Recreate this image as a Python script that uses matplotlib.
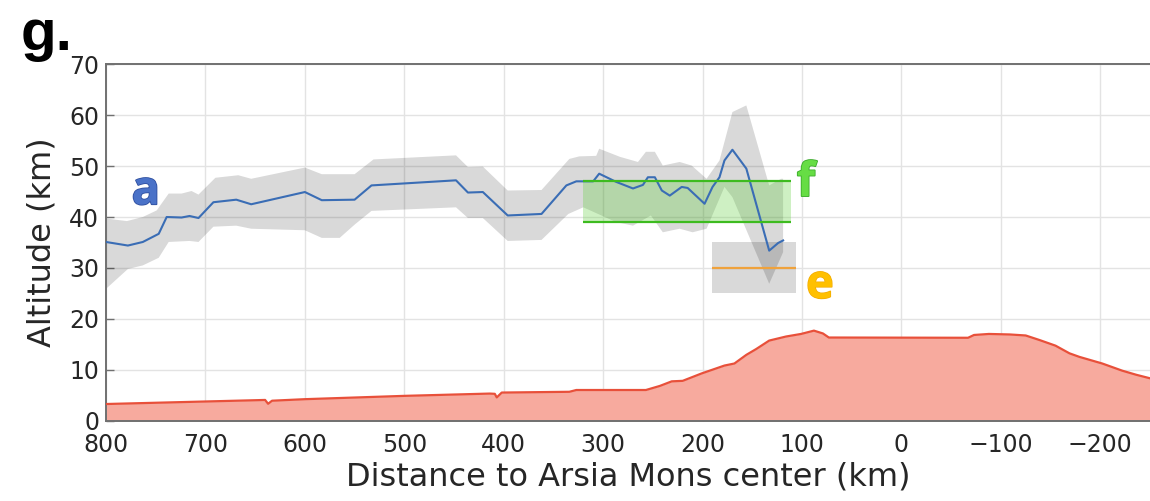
import numpy as np
import matplotlib
matplotlib.use("Agg")
import matplotlib.pyplot as plt
import matplotlib.patheffects as pe

# blue retrieval line (distance km, altitude km)
line_x = [800, 778, 763, 747, 739, 724, 716, 707, 692, 669, 654, 600, 583, 550, 533,
          448, 436, 421, 396, 362, 337, 327, 310, 304, 287, 270, 260, 255, 248, 241,
          233, 221, 215, 198, 190, 183, 178, 170, 156, 133, 124, 119]
line_y = [35.1, 34.4, 35.1, 36.7, 40.0, 39.9, 40.2, 39.8, 42.9, 43.4, 42.5, 44.9, 43.3, 43.4, 46.2,
          47.2, 44.8, 44.9, 40.3, 40.6, 46.2, 47.0, 47.0, 48.5, 46.9, 45.6, 46.3, 47.8, 47.8, 45.2,
          44.2, 45.9, 45.7, 42.6, 45.9, 47.8, 51.1, 53.2, 49.5, 33.4, 34.9, 35.4]

# uncertainty band edges
up_x = [800, 779, 763, 749, 737, 724, 714, 707, 690, 667, 654, 600, 583, 550, 531,
        448, 436, 421, 396, 362, 334, 324, 307, 304, 283, 265, 257, 248, 240, 223,
        211, 196, 183, 170, 156, 133, 121, 119]
up_y = [39.7, 39.2, 40.0, 41.3, 44.6, 44.6, 45.1, 44.4, 47.7, 48.2, 47.5, 49.7, 48.4, 48.4, 51.3,
        52.1, 49.8, 49.9, 45.2, 45.3, 51.4, 51.9, 52.0, 53.4, 51.8, 50.8, 52.8, 52.8, 50.1, 50.8,
        50.1, 47.5, 51.1, 60.6, 61.9, 46.2, 47.5, 47.5]
lo_x = [800, 778, 763, 747, 737, 716, 707, 692, 669, 654, 600, 583, 565, 550, 533,
        448, 436, 421, 396, 362, 335, 320, 304, 287, 270, 252, 240, 223, 210, 196,
        178, 170, 133, 119]
lo_y = [25.9, 29.8, 30.5, 32.0, 35.1, 35.3, 35.1, 38.1, 38.3, 37.7, 37.4, 35.9, 35.9, 38.5, 41.2,
        41.9, 39.8, 39.8, 35.3, 35.5, 40.6, 41.9, 40.5, 39.0, 38.3, 40.3, 37.0, 37.7, 37.0, 37.7,
        45.9, 43.9, 26.9, 33.1]

# topography profile
topo_x = [800, 649, 640, 637, 633, 600, 500, 414, 409, 407, 402, 334, 327, 257, 243,
          231, 220, 201, 178, 168, 156, 146, 133, 116, 101, 88, 79, 73, -67, -73,
          -88, -109, -125, -139, -155, -169, -179, -202, -222, -236, -250]
topo_y = [3.3, 4.05, 4.1, 3.35, 3.95, 4.25, 4.9, 5.35, 5.3, 4.6, 5.55, 5.7, 6.05, 6.05, 6.85,
          7.75, 7.85, 9.3, 10.85, 11.25, 12.95, 14.1, 15.75, 16.55, 17.05, 17.7, 17.15, 16.35, 16.3, 16.85,
          17.05, 16.95, 16.75, 15.85, 14.75, 13.25, 12.55, 11.25, 9.85, 9.05, 8.35]

# comparison ranges (f and e)
f_x = [320, 111]
f_y = [39, 47]
e_x = [191, 106]
e_y = [25, 35]
e_mid = 30

xtick_labels = ['800', '700', '600', '500', '400', '300', '200', '100', '0', '\u2212100', '\u2212200']

plt.rcParams['font.family'] = ['DejaVu Sans']

fig = plt.figure(figsize=(11.5, 5.01), dpi=100)
ax = fig.add_axes([0.0922, 0.160, 0.9078, 0.712])

ax.fill(list(up_x) + lo_x[::-1], list(up_y) + lo_y[::-1], color='k', alpha=0.15, lw=0, zorder=2)
ax.plot(line_x, line_y, color='#3a6db5', lw=1.5, zorder=4)

ax.fill_between(f_x, f_y[0], f_y[1], color='#5fd03a', alpha=0.3, lw=0, zorder=3)
ax.hlines(f_y, f_x[0], f_x[1], color='#3dbb1f', lw=1.6, zorder=5)
ax.fill_between(e_x, e_y[0], e_y[1], color='k', alpha=0.15, lw=0, zorder=2)
ax.hlines(e_mid, e_x[0], e_x[1], color='#efa23c', lw=1.6, zorder=5)

ax.fill_between(topo_x, 0, topo_y, color='#f7aa9e', lw=0, zorder=2)
ax.plot(topo_x, topo_y, color='#e8503a', lw=1.6, zorder=3)

lab = dict(fontsize=34, fontweight='bold', ha='center', va='baseline', zorder=6,
           family='Open Sans')
ax.text(760, 42.5, 'a', color='#4a72c8',
        path_effects=[pe.withStroke(linewidth=1.2, foreground='#2f4f9f')], **lab)
ax.text(96, 44.1, 'f', color='#66dd44',
        path_effects=[pe.withStroke(linewidth=1.2, foreground='#3aaa2a')], **lab)
ax.text(82, 24.1, 'e', color='#ffc000',
        path_effects=[pe.withStroke(linewidth=1.0, foreground='#f2aa00')], **lab)

ax.set_xlim(800, -250)
ax.set_ylim(0, 70)
ax.set_xticks(np.arange(800, -201, -100))
ax.set_xticklabels(xtick_labels)
ax.set_yticks(np.arange(0, 71, 10))
ax.grid(True, color='#e3e3e3', lw=1.0, zorder=0)
ax.set_axisbelow(True)
ax.tick_params(direction='in', length=6, width=1, colors='#707070', labelcolor='#262626',
               labelsize=17)
ax.tick_params(axis='x', pad=9)
ax.tick_params(axis='y', pad=5)
for s in ['left', 'bottom', 'top']:
    ax.spines[s].set_color('#707070')
    ax.spines[s].set_linewidth(1.4)
ax.spines['right'].set_visible(False)

ax.set_xlabel('Distance to Arsia Mons center (km)', fontsize=23, color='#262626', labelpad=3)
ax.set_ylabel('Altitude (km)', fontsize=23, color='#262626', labelpad=8)

fig.text(0.018, 0.90, 'g.', fontsize=42, fontweight='bold', family='Liberation Sans',
         ha='left', va='baseline')

fig.savefig('out.png', dpi=100)
